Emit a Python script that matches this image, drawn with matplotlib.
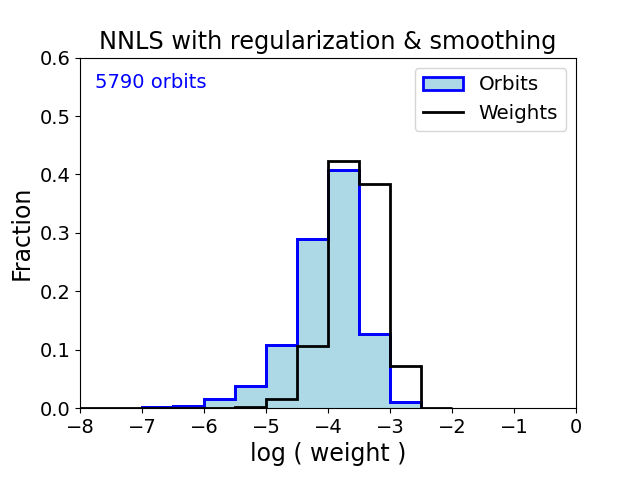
import numpy as np
import matplotlib
matplotlib.use("Agg")
import matplotlib.pyplot as plt

orbit_edges = [-7.0, -6.5, -6.0, -5.5, -5.0, -4.5, -4.0, -3.5, -3.0, -2.5]
orbit_frac = [0.002, 0.004, 0.015, 0.038, 0.108, 0.290, 0.408, 0.127, 0.011]

weight_edges = [-8.0, -7.5, -7.0, -6.5, -6.0, -5.5, -5.0, -4.5, -4.0, -3.5, -3.0, -2.5, -2.0]
weight_frac = [0.0, 0.0, 0.0, 0.0, 0.0, 0.002, 0.015, 0.107, 0.423, 0.384, 0.072, 0.0]

n_orbits = 5790

fig, ax = plt.subplots(figsize=(6.4, 4.8), dpi=100)
fig.subplots_adjust(left=0.125, right=0.9, bottom=0.15, top=0.88)
ax.stairs(orbit_frac, orbit_edges, fill=True, facecolor='lightblue', edgecolor='blue',
          linewidth=2, label='Orbits')
ax.stairs(orbit_frac, orbit_edges, fill=False, edgecolor='blue', linewidth=2)
ax.stairs(weight_frac, weight_edges, fill=False, edgecolor='black', linewidth=2, label='Weights')

ax.set_xlim(-8, 0)
ax.set_ylim(0, 0.6)
ax.tick_params(labelsize=14)
ax.set_xlabel('log ( weight )', fontsize=17)
ax.set_ylabel('Fraction', fontsize=17)
ax.set_title('NNLS with regularization & smoothing', fontsize=17.3)
ax.text(0.03, 0.93, f'{n_orbits} orbits', transform=ax.transAxes, color='blue',
        fontsize=14, va='center')
ax.legend(fontsize=14.3, loc='upper right')
fig.savefig('out.png')
